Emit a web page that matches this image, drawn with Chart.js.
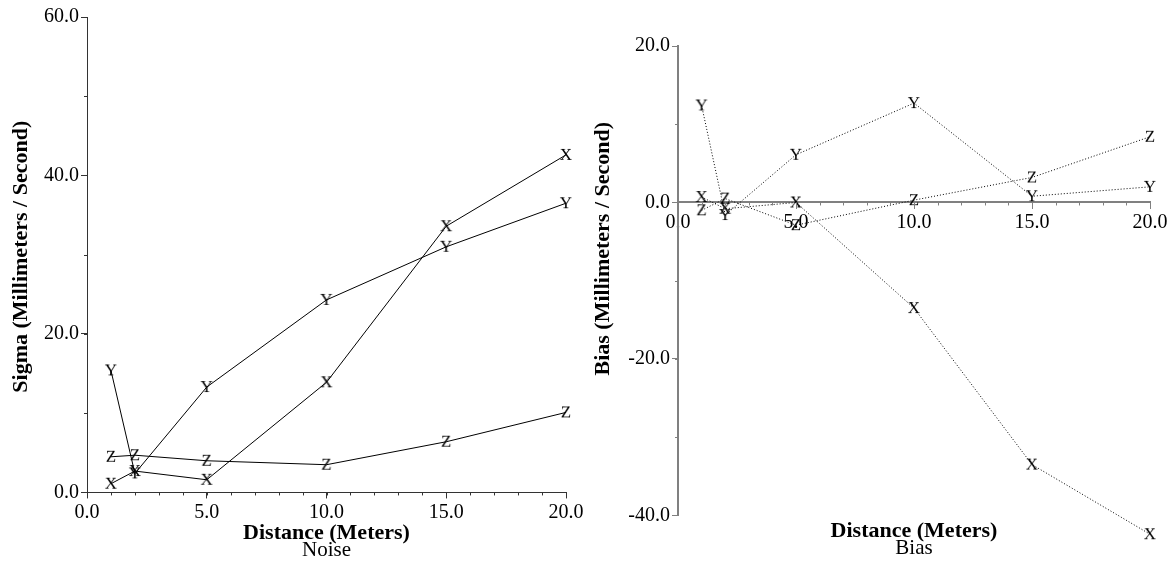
<!DOCTYPE html>
<html>
<head>
<meta charset="utf-8">
<script src="https://cdn.jsdelivr.net/npm/chart.js@4.4.1/dist/chart.umd.min.js"></script>
<style>
  html, body { margin: 0; padding: 0; background: #fff; }
  #wrap { position: relative; width: 1174px; height: 564px; }
  .box { position: absolute; top: 0; height: 564px; }
  #left { left: 0; width: 590px; }
  #right { left: 590px; width: 584px; }
</style>
</head>
<body>
<div id="wrap">
  <div class="box" id="left"><canvas id="noiseChart"></canvas></div>
  <div class="box" id="right"><canvas id="biasChart"></canvas></div>
</div>
<script>
// distance in meters
const distances = [1, 2, 5, 10, 15, 20];

// noise (sigma, mm/s)
const noiseX = [1.1, 2.7, 1.6, 13.9, 33.6, 42.6];
const noiseY = [15.4, 2.4, 13.3, 24.3, 31.0, 36.5];
const noiseZ = [4.5, 4.7, 4.0, 3.5, 6.4, 10.1];

// bias (mm/s)
const biasX = [0.7, -0.8, 0.0, -13.5, -33.5, -42.4];
const biasY = [12.4, -1.6, 6.1, 12.7, 0.8, 2.0];
const biasZ = [-1.0, 0.5, -2.9, 0.3, 3.2, 8.4];

const seriesNames = ['X', 'Y', 'Z'];
const distanceTicks = [0, 5, 10, 15, 20];
const noiseTicks = [0, 20, 40, 60];
const biasTicks = [-40, -20, 0, 20];

const SERIF = "'Liberation Serif', 'Times New Roman', serif";

// letter used as point marker
function letterMarker(ch) {
  const c = document.createElement('canvas');
  c.width = 22;
  c.height = 22;
  const g = c.getContext('2d');
  g.fillStyle = '#000';
  g.font = '17px ' + SERIF;
  g.textAlign = 'center';
  g.textBaseline = 'middle';
  g.fillText(ch, 11, 12);
  return c;
}

// small ticks between the labelled ones
const minorSteps = { x: 1, y: 10 };
const minorTicks = {
  id: 'minorTicks',
  afterDraw(chart) {
    const ctx = chart.ctx;
    ctx.save();
    ctx.lineWidth = 1;
    Object.keys(minorSteps).forEach((id) => {
      const scale = chart.scales[id];
      const step = minorSteps[id];
      ctx.strokeStyle = scale.options.border.color;
      ctx.beginPath();
      for (let v = scale.min; v <= scale.max + 1e-9; v += step) {
        const p = Math.round(scale.getPixelForValue(v)) + 0.5;
        if (scale.isHorizontal()) {
          const pos = scale.options.position;
          const y = typeof pos === 'object'
            ? chart.scales.y.getPixelForValue(pos.y)
            : scale.top;
          ctx.moveTo(p, y);
          ctx.lineTo(p, y + 3);
        } else {
          ctx.moveTo(scale.right, p);
          ctx.lineTo(scale.right - 3, p);
        }
      }
      ctx.stroke();
    });
    ctx.restore();
  },
};

// rotated title beside the y axis
const sideTitle = {
  id: 'sideTitle',
  afterDraw(chart, args, opts) {
    const ctx = chart.ctx;
    const area = chart.chartArea;
    ctx.save();
    ctx.translate(opts.x, (area.top + area.bottom) / 2 + opts.dy);
    ctx.rotate(-Math.PI / 2);
    ctx.fillStyle = '#000';
    ctx.font = 'bold 22px ' + SERIF;
    ctx.textAlign = 'center';
    ctx.textBaseline = 'middle';
    ctx.fillText(opts.text, 0, 0);
    ctx.restore();
  },
};

function makeDatasets(values, dash) {
  return values.map((vals, i) => ({
    label: seriesNames[i],
    data: distances.map((d, j) => ({ x: d, y: vals[j] })),
    borderColor: '#000',
    borderWidth: 1,
    borderDash: dash,
    pointStyle: letterMarker(seriesNames[i]),
    pointRadius: 30, // only widens the "in area" check, image keeps its size
    tension: 0,
    clip: false,
  }));
}

function tickFmt(v) {
  return Number(v).toFixed(1);
}

function axisOptions(opts) {
  return {
    type: 'linear',
    min: opts.min,
    max: opts.max,
    afterBuildTicks: (scale) => {
      scale.ticks = opts.ticks.map((v) => ({ value: v }));
    },
    afterFit: opts.afterFit,
    position: opts.position,
    border: { display: true, color: opts.borderColor, width: opts.borderWidth },
    grid: { display: true, drawOnChartArea: false, drawTicks: true, tickLength: 6, tickColor: opts.borderColor },
    ticks: {
      color: '#000',
      font: { family: SERIF, size: 20 },
      padding: 2,
      maxRotation: 0,
      autoSkip: false,
      callback: tickFmt,
    },
  };
}

function bottomTitles(main, sub, gap, side) {
  return {
    legend: { display: false },
    tooltip: { enabled: false },
    title: {
      display: true, position: 'bottom', text: main, color: '#000', fullSize: false,
      font: { family: SERIF, size: 22, weight: 'bold', lineHeight: 0.95 },
      padding: { top: gap, bottom: 0 }, weight: 1000,
    },
    subtitle: {
      display: true, position: 'bottom', text: sub, color: '#000', fullSize: false,
      font: { family: SERIF, size: 21, weight: 'normal', lineHeight: 0.65 }, padding: 0, weight: 1500,
    },
    sideTitle: side,
  };
}

new Chart(document.getElementById('noiseChart'), {
  type: 'line',
  data: { datasets: makeDatasets([noiseX, noiseY, noiseZ], []) },
  options: {
    responsive: true,
    maintainAspectRatio: false,
    animation: false,
    layout: { autoPadding: false, padding: { top: 17, right: 24, bottom: 7, left: 0 } },
    scales: {
      x: axisOptions({
        min: 0, max: 20, ticks: distanceTicks, position: 'bottom',
        borderColor: '#333', borderWidth: 1,
        afterFit: (s) => { s.height = 27; },
      }),
      y: axisOptions({
        min: 0, max: 60, ticks: noiseTicks, position: 'left',
        borderColor: '#333', borderWidth: 1,
        afterFit: (s) => { s.width = 87; },
      }),
    },
    plugins: bottomTitles('Distance (Meters)', 'Noise', 3,
      { text: 'Sigma (Millimeters / Second)', x: 21, dy: 2 }),
  },
  plugins: [minorTicks, sideTitle],
});

new Chart(document.getElementById('biasChart'), {
  type: 'line',
  data: { datasets: makeDatasets([biasX, biasY, biasZ], [1, 2]) },
  options: {
    responsive: true,
    maintainAspectRatio: false,
    animation: false,
    layout: { autoPadding: false, padding: { top: 46, right: 24, bottom: 9, left: 0 } },
    scales: {
      x: axisOptions({
        min: 0, max: 20, ticks: distanceTicks, position: { y: 0 },
        borderColor: '#808080', borderWidth: 2,
      }),
      y: axisOptions({
        min: -40, max: 20, ticks: biasTicks, position: 'left',
        borderColor: '#808080', borderWidth: 2,
        afterFit: (s) => { s.width = 88; },
      }),
    },
    plugins: bottomTitles('Distance (Meters)', 'Bias', 5,
      { text: 'Bias (Millimeters / Second)', x: 13, dy: -32 }),
  },
  plugins: [minorTicks, sideTitle],
});
</script>
</body>
</html>
